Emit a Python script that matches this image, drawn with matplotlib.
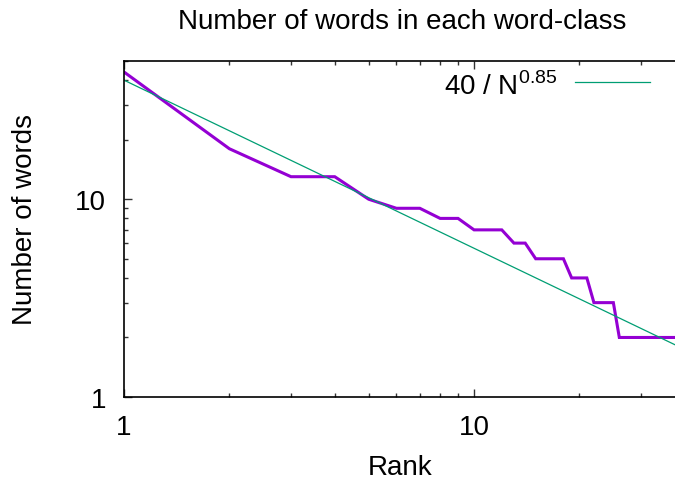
import numpy as np
import matplotlib.pyplot as plt
from matplotlib.ticker import LogLocator, NullFormatter, FixedLocator

plt.rcParams['font.family'] = ['Liberation Sans', 'DejaVu Sans']
plt.rcParams['mathtext.fontset'] = 'custom'
plt.rcParams['mathtext.rm'] = 'Liberation Sans'

# word counts per word-class, sorted by rank
ranks = list(range(1, 39))
counts = [44, 18, 13, 13, 10, 9, 9, 8, 8, 7, 7, 7, 6, 6, 5, 5, 5, 5, 4, 4, 4,
          3, 3, 3, 3, 2, 2, 2, 2, 2, 2, 2, 2, 2, 2, 2, 2, 2]

# power-law fit 40 / N^0.85
fit_a = 40
fit_b = 0.85

W, H = 675, 485
fs = 20

fig = plt.figure(figsize=(W / 100, H / 100), dpi=100)
ax = fig.add_axes([124 / W, 1 - 398 / H, 1 - 124 / W, (398 - 62) / H])

ax.plot(ranks, counts, color='#9400d3', lw=2.2, solid_joinstyle='miter')
xf = np.logspace(0, np.log10(40), 200)
ax.plot(xf, fit_a / xf ** fit_b, color='#009e73', lw=0.9)

ax.set_xscale('log')
ax.set_yscale('log')
ax.set_xlim(1, 37.5)
ax.set_ylim(1, 50)

ax.xaxis.set_major_locator(FixedLocator([1, 10]))
ax.yaxis.set_major_locator(FixedLocator([1, 10]))
ax.set_xticklabels(['1', '10'])
ax.set_yticklabels(['1', '10'])
ax.xaxis.set_minor_locator(LogLocator(base=10, subs=np.arange(2, 10)))
ax.yaxis.set_minor_locator(LogLocator(base=10, subs=np.arange(2, 10)))
ax.xaxis.set_minor_formatter(NullFormatter())
ax.yaxis.set_minor_formatter(NullFormatter())
ax.tick_params(which='both', direction='in', top=True, right=False,
               labelsize=fs, width=1, colors='#333333', labelcolor='black')
ax.tick_params(which='major', length=6)
ax.tick_params(axis='y', which='major', pad=13)
ax.tick_params(axis='x', which='major', pad=12)
ax.tick_params(which='minor', length=3)

ax.spines['right'].set_visible(False)
for s in ['left', 'top', 'bottom']:
    ax.spines[s].set_linewidth(1.2)
    ax.spines[s].set_color('black')

# labels and title placed like gnuplot does
fig.text(402 / W, 1 - 22 / H, 'Number of words in each word-class',
         fontsize=fs, ha='center', va='center')
fig.text(400 / W, 1 - 468 / H, 'Rank', fontsize=fs, ha='center', va='center')
fig.text(25 / W, 1 - 220 / H, 'Number of words', fontsize=fs, ha='center',
         va='center', rotation=90)

# legend in gnuplot style
fig.text(557 / W, 1 - 95 / H, r'40 / N$^{\mathregular{0.85}}$', fontsize=fs,
         ha='right', va='baseline')
ax.plot([575 / W, 650 / W], [1 - 83 / H] * 2, transform=fig.transFigure,
        color='#009e73', lw=0.9, clip_on=False)

fig.savefig('out.png', dpi=100)
